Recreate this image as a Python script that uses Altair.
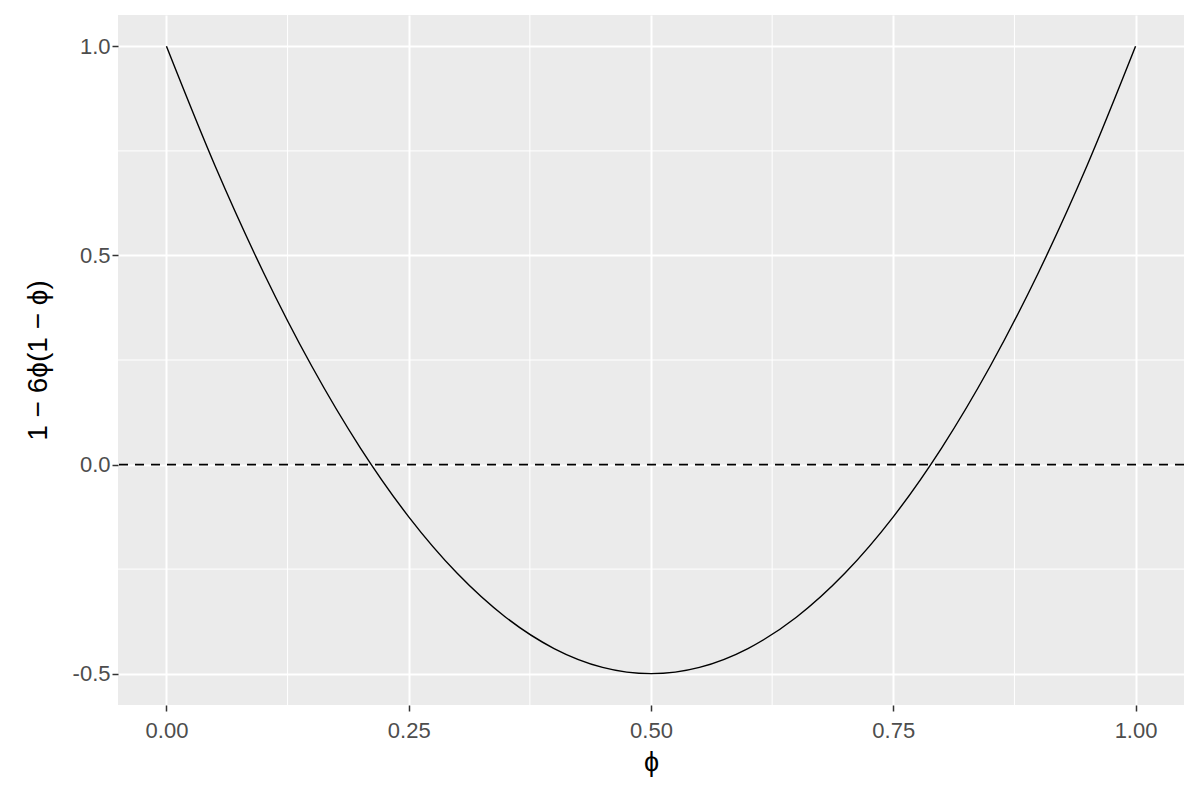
import altair as alt
import pandas as pd

# values
phi = [0.00, 0.05, 0.10, 0.15, 0.20, 0.25, 0.30, 0.35, 0.40, 0.45, 0.50,
       0.55, 0.60, 0.65, 0.70, 0.75, 0.80, 0.85, 0.90, 0.95, 1.00]
valor = [1.000, 0.715, 0.460, 0.235, 0.040, -0.125, -0.260, -0.365, -0.440, -0.485, -0.500,
         -0.485, -0.440, -0.365, -0.260, -0.125, 0.040, 0.235, 0.460, 0.715, 1.000]

x_ticks = [0.00, 0.25, 0.50, 0.75, 1.00]
y_ticks = [-0.5, 0.0, 0.5, 1.0]
x_menores = [0.125, 0.375, 0.625, 0.875]
y_menores = [-0.25, 0.25, 0.75]
linea_cero = [0.0]

curva = pd.DataFrame({'phi': phi, 'y': valor})

fuente = 'Liberation Sans'
x_scale = alt.Scale(domain=[-0.05, 1.05], nice=False, zero=False)
y_scale = alt.Scale(domain=[-0.575, 1.075], nice=False, zero=False)

ejes = alt.Chart(curva).mark_line(color='black', strokeWidth=1.4, interpolate='monotone').encode(
    x=alt.X('phi:Q', scale=x_scale, title='ϕ',
            axis=alt.Axis(values=x_ticks, format='.2f', grid=True, gridColor='white',
                          gridWidth=2, domain=False, tickColor='#333333', tickSize=6,
                          tickWidth=1.5, labelColor='#4D4D4D', labelFontSize=22,
                          labelFont=fuente, labelPadding=9, titleFont=fuente,
                          titleFontSize=27, titleFontWeight='normal', titleColor='black',
                          titlePadding=8, labelFlush=False)),
    y=alt.Y('y:Q', scale=y_scale, title='1 − 6ϕ(1 − ϕ)',
            axis=alt.Axis(values=y_ticks, grid=True, gridColor='white',
                          labelExpr="datum.value < 0 ? '-' + format(-datum.value, '.1f') : format(datum.value, '.1f')",
                          gridWidth=2, domain=False, tickColor='#333333', tickSize=6,
                          tickWidth=1.5, labelColor='#4D4D4D', labelFontSize=22,
                          labelFont=fuente, labelPadding=2, titleFont=fuente,
                          titleFontSize=28, titleFontWeight='normal', titleColor='black',
                          titlePadding=20, labelFlush=False))
)

menores_x = alt.Chart(pd.DataFrame({'x': x_menores})).mark_rule(
    color='white', strokeWidth=1).encode(x=alt.X('x:Q', scale=x_scale))
menores_y = alt.Chart(pd.DataFrame({'y': y_menores})).mark_rule(
    color='white', strokeWidth=1).encode(y=alt.Y('y:Q', scale=y_scale))

cero = alt.Chart(pd.DataFrame({'y': linea_cero})).mark_rule(
    color='black', strokeWidth=1.8, strokeDash=[9, 7]).encode(y=alt.Y('y:Q', scale=y_scale))

chart = alt.layer(menores_x, menores_y, cero, ejes).properties(
    width=1066,
    height=690,
    autosize=alt.AutoSizeParams(type='none'),
    padding={'left': 110, 'top': 7, 'right': 8, 'bottom': 87},
    background='white'
).configure_view(
    fill='#EBEBEB',
    stroke='#EBEBEB',
    strokeWidth=0
)

chart.save("out.html", embed_options={"renderer": "svg", "actions": False})
